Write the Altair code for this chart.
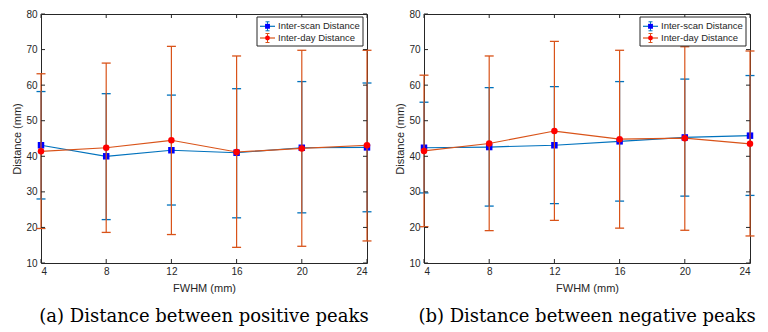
import altair as alt
import pandas as pd

# ---------------- data ----------------
fwhm = [4, 8, 12, 16, 20, 24]
y_ticks = [10, 20, 30, 40, 50, 60, 70, 80]
series_names = ["Inter-scan Distance", "Inter-day Distance"]
captions = ["(a) Distance between positive peaks", "(b) Distance between negative peaks"]

# panel (a): positive peaks
a_scan_mean = [43.1, 40.0, 41.7, 41.0, 42.4, 42.5]
a_scan_lo = [28.0, 22.2, 26.3, 22.7, 24.1, 24.4]
a_scan_hi = [58.2, 57.6, 57.2, 59.0, 61.0, 60.6]
a_day_mean = [41.4, 42.4, 44.5, 41.2, 42.2, 43.1]
a_day_lo = [19.7, 18.6, 18.0, 14.4, 14.7, 16.2]
a_day_hi = [63.2, 66.2, 70.9, 68.2, 69.8, 69.8]

# panel (b): negative peaks
b_scan_mean = [42.4, 42.6, 43.1, 44.2, 45.3, 45.8]
b_scan_lo = [29.7, 26.0, 26.7, 27.4, 28.8, 29.0]
b_scan_hi = [55.2, 59.3, 59.6, 61.0, 61.7, 62.7]
b_day_mean = [41.5, 43.6, 47.1, 44.8, 45.1, 43.5]
b_day_lo = [20.2, 19.1, 22.0, 19.8, 19.2, 17.6]
b_day_hi = [62.8, 68.2, 72.3, 69.8, 70.8, 69.6]

# ---------------- styling ----------------
LINE = ["#0072BD", "#D95319"]
MARK = ["#0000FF", "#FF0000"]
SHAPE = ["square", "circle"]
W, H = 326, 249
AX = "#262626"
SANS = "Liberation Sans"

xs = alt.Scale(domain=[4, 24], nice=False, zero=False)
ys = alt.Scale(domain=[10, 80], nice=False, zero=False)
x_axis = alt.Axis(values=fwhm, format="d", labelPadding=3, titlePadding=6)
y_axis = alt.Axis(values=y_ticks, format="d", labelPadding=4, titlePadding=3)


def X(field):
    return alt.X(field, scale=xs, axis=x_axis, title="FWHM (mm)")


def Y(field):
    return alt.Y(field, scale=ys, axis=y_axis, title="Distance (mm)")


def series_layers(mean, lo, hi, idx):
    df = pd.DataFrame({"fwhm": fwhm, "mean": mean, "lo": lo, "hi": hi})
    base = alt.Chart(df)
    c = LINE[idx]
    bars = base.mark_rule(color=c, strokeWidth=1.2).encode(
        x=X("fwhm:Q"), y=Y("lo:Q"), y2="hi:Q")
    cap_lo = base.mark_tick(orient="horizontal", color=c, size=9, thickness=1.3, opacity=1).encode(
        x=X("fwhm:Q"), y=Y("lo:Q"))
    cap_hi = base.mark_tick(orient="horizontal", color=c, size=9, thickness=1.3, opacity=1).encode(
        x=X("fwhm:Q"), y=Y("hi:Q"))
    line = base.mark_line(color=c, strokeWidth=1.2).encode(
        x=X("fwhm:Q"), y=Y("mean:Q"))
    pts = base.mark_point(shape=SHAPE[idx], filled=True, color=MARK[idx], size=42,
                          opacity=1, strokeWidth=0).encode(
        x=X("fwhm:Q"), y=Y("mean:Q"))
    return [bars, cap_lo, cap_hi, line, pts]


def axis_layers():
    xdf = pd.DataFrame({"v": fwhm})
    ydf = pd.DataFrame({"v": y_ticks})
    tick_kw = dict(color=AX, thickness=1, opacity=1, size=4)
    xb = alt.Chart(xdf).mark_tick(orient="vertical", **tick_kw).encode(
        x=X("v:Q"), y=alt.value(H - 2))
    xt = alt.Chart(xdf).mark_tick(orient="vertical", **tick_kw).encode(
        x=X("v:Q"), y=alt.value(2))
    yl = alt.Chart(ydf).mark_tick(orient="horizontal", **tick_kw).encode(
        y=Y("v:Q"), x=alt.value(2))
    yr = alt.Chart(ydf).mark_tick(orient="horizontal", **tick_kw).encode(
        y=Y("v:Q"), x=alt.value(W - 2))
    return [xb, xt, yl, yr]


def legend_layers():
    x0 = W - 110
    box = alt.Chart(pd.DataFrame({"k": [0]})).mark_rect(
        fill="white", stroke=AX, strokeWidth=1).encode(
        x=alt.value(x0), x2=alt.value(x0 + 106), y=alt.value(3), y2=alt.value(32))
    out = [box]
    rows_y = [12.3, 24.0]
    for i, name in enumerate(series_names):
        yy = rows_y[i]
        d = alt.Chart(pd.DataFrame({"name": [name]}))
        out += [
            d.mark_rule(color=LINE[i], strokeWidth=1.2).encode(
                x=alt.value(x0 + 3), x2=alt.value(x0 + 18), y=alt.value(yy)),
            d.mark_rule(color=LINE[i], strokeWidth=1).encode(
                x=alt.value(x0 + 10.5), y=alt.value(yy - 4.5), y2=alt.value(yy + 4.5)),
            d.mark_rule(color=LINE[i], strokeWidth=1).encode(
                x=alt.value(x0 + 8.5), x2=alt.value(x0 + 12.5), y=alt.value(yy - 4.5)),
            d.mark_rule(color=LINE[i], strokeWidth=1).encode(
                x=alt.value(x0 + 8.5), x2=alt.value(x0 + 12.5), y=alt.value(yy + 4.5)),
            d.mark_point(shape=SHAPE[i], filled=True, color=MARK[i], size=24,
                         opacity=1, strokeWidth=0).encode(
                x=alt.value(x0 + 10.5), y=alt.value(yy)),
            d.mark_text(align="left", baseline="middle", font=SANS, fontSize=9.5,
                        color=AX).encode(
                x=alt.value(x0 + 21), y=alt.value(yy), text="name:N"),
        ]
    return out


def panel(scan, day, caption):
    layers = series_layers(*scan, 0) + series_layers(*day, 1) + axis_layers() + legend_layers()
    return alt.layer(*layers).properties(
        width=W, height=H,
        title=alt.TitleParams(text=caption, orient="bottom", font="DejaVu Serif",
                              fontSize=18, fontWeight="normal", color="black",
                              anchor="middle", offset=15),
    )


pa = panel((a_scan_mean, a_scan_lo, a_scan_hi), (a_day_mean, a_day_lo, a_day_hi), captions[0])
pb = panel((b_scan_mean, b_scan_lo, b_scan_hi), (b_day_mean, b_day_lo, b_day_hi), captions[1])

chart = alt.hconcat(pa, pb, spacing=22).properties(
    padding={"left": 3, "top": 0, "right": 0, "bottom": 0}
).configure_view(
    stroke=AX, strokeWidth=1
).configure_axis(
    grid=False, domain=False, tickSize=0,
    labelFont=SANS, labelFontSize=10, labelColor=AX,
    titleFont=SANS, titleFontSize=11, titleColor=AX, titleFontWeight="normal",
)

chart.save("out.html", embed_options={"renderer": "svg", "actions": False})
